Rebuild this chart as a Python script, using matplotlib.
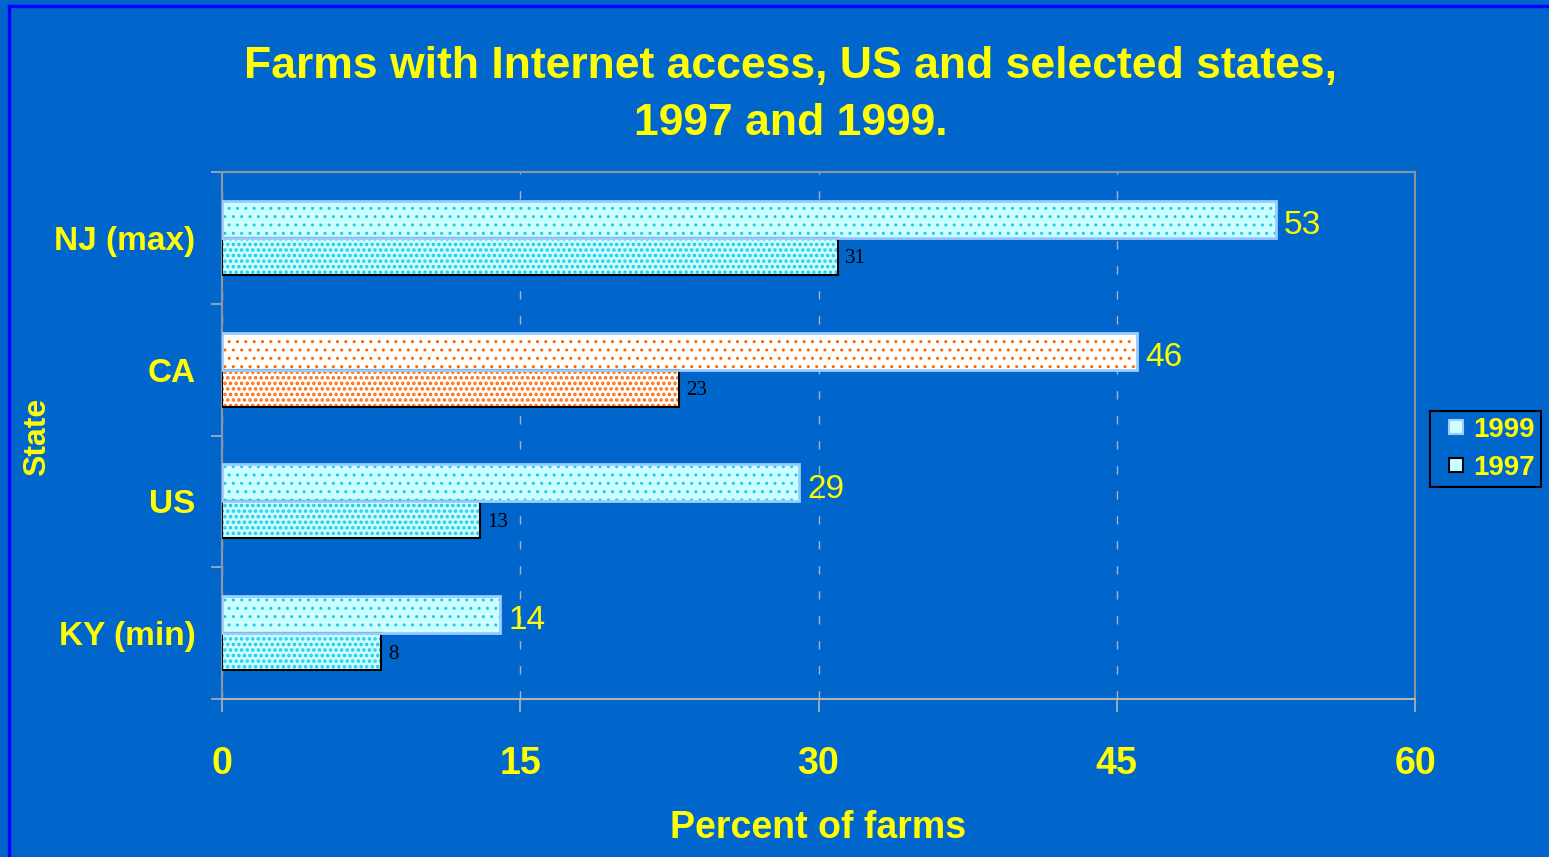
import numpy as np
import matplotlib as mpl
import matplotlib.pyplot as plt
from matplotlib.lines import Line2D

mpl.rcParams['font.family'] = 'Liberation Sans'
mpl.rcParams['hatch.linewidth'] = 1.0

# Data: percent of farms with Internet access
states = ['KY (min)', 'US', 'CA', 'NJ (max)']
pct_1999 = [14, 29, 46, 53]
pct_1997 = [8, 13, 23, 31]
xticks = [0, 15, 30, 45, 60]

BG = '#0066CC'
YELLOW = '#FFFF00'
CYAN_FILL = '#CCFFFF'
CYAN_DOT = '#1EC8F0'
ORANGE = '#FF6600'

fig = plt.figure(figsize=(15.49, 8.57), dpi=100, facecolor=BG)
ax = fig.add_axes([222 / 1549, 1 - 699 / 857, 1193 / 1549, 527 / 857])
ax.set_facecolor(BG)

y = np.arange(len(states))
h = 0.28

# per-state fill / pattern colours (CA drawn in white/orange)
fills = [CYAN_FILL, CYAN_FILL, 'white', CYAN_FILL]
dots = [CYAN_DOT, CYAN_DOT, ORANGE, CYAN_DOT]

for i in range(len(states)):
    # 1997 bar (lower), heavier pattern
    with mpl.rc_context({'hatch.linewidth': 1.7}):
        ax.barh(y[i] - h / 2, pct_1997[i], height=h, color=fills[i],
                edgecolor=dots[i], hatch='...', linewidth=0, zorder=3)
    ax.barh(y[i] - h / 2, pct_1997[i], height=h, fill=False,
            edgecolor='black', linewidth=1.5, zorder=4)
    # 1999 bar (upper)
    ax.barh(y[i] + h / 2, pct_1999[i], height=h, color=fills[i],
            edgecolor=dots[i], hatch='..', linewidth=0, zorder=3)
    ax.barh(y[i] + h / 2, pct_1999[i], height=h, fill=False,
            edgecolor='#99CCFF', linewidth=2, zorder=5)

    ax.annotate(str(pct_1999[i]), (pct_1999[i], y[i] + h / 2),
                xytext=(6, -2), textcoords='offset points',
                ha='left', va='center_baseline', color=YELLOW, fontsize=24)
    ax.annotate(str(pct_1997[i]), (pct_1997[i], y[i] - h / 2),
                xytext=(5, 0), textcoords='offset points',
                ha='left', va='center_baseline', color='black', fontsize=15,
                family='Liberation Serif')

ax.set_xlim(0, 60)
ax.set_ylim(-0.5, 3.5)
ax.set_xticks(xticks)
ax.set_xticklabels([str(t) for t in xticks])

# boundary ticks between categories, labels centred on them
ax.set_yticks(np.arange(-0.5, 4, 1))
ax.set_yticklabels([])
ax.set_yticks(y, minor=True)
ax.set_yticklabels(states, minor=True)
ax.tick_params(axis='y', which='major', direction='out', length=8,
               width=1.2, color='#A8B0B8')
ax.tick_params(axis='y', which='minor', length=0, pad=19,
               labelsize=24, labelcolor=YELLOW)
ax.tick_params(axis='x', direction='out', length=9, width=1.2,
               color='#B4B4B4', pad=25, labelsize=27, labelcolor=YELLOW)
for lbl in ax.get_xticklabels() + ax.get_yticklabels(minor=True):
    lbl.set_fontweight('bold')

for s in ax.spines.values():
    s.set_color('#8C96A2')
    s.set_linewidth(1.5)
ax.spines['bottom'].set_color('#B4B4B4')

ax.grid(axis='x', color='#A8B4C4', linewidth=1, linestyle=(0, (6, 12)),
        zorder=1)
ax.set_axisbelow(True)

ax.set_xlabel('Percent of farms', color=YELLOW, fontsize=27,
              fontweight='bold')
ax.xaxis.set_label_coords(0.5, -0.245)
ax.xaxis.label.set_va('center')
ax.set_ylabel('State', color=YELLOW, fontsize=23, fontweight='bold')
ax.yaxis.set_label_coords(-0.155, 0.497)
ax.yaxis.label.set_va('center')

fig.text(791 / 1549, 1 - 95 / 857,
         'Farms with Internet access, US and selected states,\n1997 and 1999.',
         ha='center', va='center', color=YELLOW, fontsize=32,
         fontweight='bold', linespacing=1.52)

# legend with small square keys
k99 = Line2D([], [], linestyle='none', marker='s', markersize=10,
             markerfacecolor=CYAN_FILL, markeredgecolor='#99CCFF',
             markeredgewidth=1.5)
k97 = Line2D([], [], linestyle='none', marker='s', markersize=10,
             markerfacecolor=CYAN_FILL, markeredgecolor='black',
             markeredgewidth=1.5)
leg = fig.legend([k99, k97], ['1999', '1997'],
                 loc='center left', bbox_to_anchor=(1430 / 1549, 1 - 449 / 857),
                 bbox_transform=fig.transFigure, borderaxespad=0, fontsize=20,
                 handlelength=1.44, handletextpad=-0.1,
                 labelspacing=0.42, borderpad=0.22, fancybox=False,
                 framealpha=1, facecolor=BG, edgecolor='black')
leg.get_frame().set_linewidth(1.5)
for t in leg.get_texts():
    t.set_color(YELLOW)
    t.set_fontweight('bold')

# outer frame
fig.add_artist(Line2D([9 / 1549, 9 / 1549], [1 - 6 / 857, 0],
                      transform=fig.transFigure, color='#0000FF', lw=2.4))
fig.add_artist(Line2D([9 / 1549, 1], [1 - 6 / 857, 1 - 6 / 857],
                      transform=fig.transFigure, color='#0000FF', lw=2.4))

fig.savefig('out.png', dpi=100, facecolor=BG)
